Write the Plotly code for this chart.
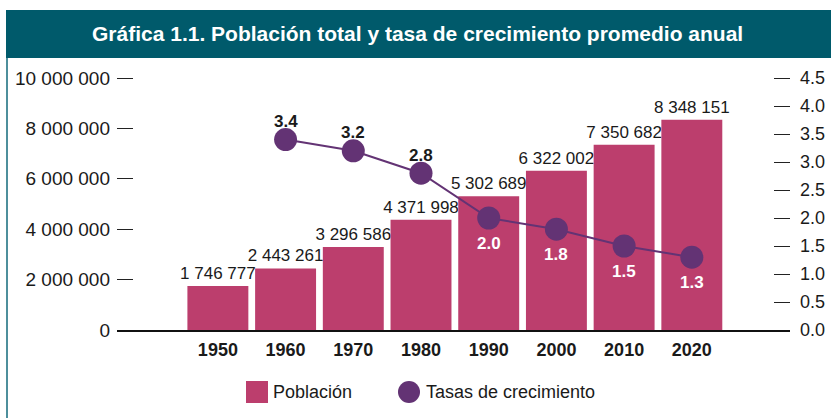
import plotly.graph_objects as go

# ---- data ----
years = ["1950", "1960", "1970", "1980", "1990", "2000", "2010", "2020"]
population = [1746777, 2443261, 3296586, 4371998, 5302689, 6322002, 7350682, 8348151]
rate_years = ["1960", "1970", "1980", "1990", "2000", "2010", "2020"]
growth_rate = [3.4, 3.2, 2.8, 2.0, 1.8, 1.5, 1.3]
left_ticks = [0, 2000000, 4000000, 6000000, 8000000, 10000000]
right_ticks = [0.0, 0.5, 1.0, 1.5, 2.0, 2.5, 3.0, 3.5, 4.0, 4.5]

title_text = "Gráfica 1.1. Población total y tasa de crecimiento promedio anual"
legend_labels = ["Población", "Tasas de crecimiento"]

# ---- style ----
W, H = 831, 418
EXT = 1.04  # axis headroom above top tick
L, R, B = 117, 41, 88
T = int(round(H - B - (H - B - 78) * EXT))
PW, PH = W - L - R, H - T - B
BAR = "#bc3e6d"
PURPLE = "#633374"
TEAL = "#005a6b"
FONT = "Liberation Sans, Arial, sans-serif"
TXT = "#1a1a1a"


def px_x(x):
    return (x - L) / PW


def px_y(y):
    return (H - B - y) / PH


def fmt_int(v):
    return f"{v:,}".replace(",", " ")


fig = go.Figure()

fig.add_trace(go.Bar(
    x=years, y=population, name=legend_labels[0],
    marker=dict(color=BAR, line=dict(width=0)),
    text=[fmt_int(v) for v in population],
    textposition="outside", constraintext="none", cliponaxis=False,
    textfont=dict(family=FONT, size=17, color=TXT),
    width=0.9, showlegend=False,
))

fig.add_trace(go.Scatter(
    x=rate_years, y=growth_rate, yaxis="y2", name=legend_labels[1],
    mode="lines+markers",
    line=dict(color=PURPLE, width=2),
    marker=dict(color=PURPLE, size=23),
    cliponaxis=False, showlegend=False,
))

y_top = (H - B - T) / (H - B - 78) * left_ticks[-1]
y2_top = (H - B - T) / (H - B - 78) * right_ticks[-1]

fig.update_layout(
    width=W, height=H,
    margin=dict(l=L, r=R, t=T, b=B, autoexpand=False),
    paper_bgcolor="white", plot_bgcolor="white",
    font=dict(family=FONT, color=TXT),
    bargap=0.1,
    xaxis=dict(
        type="category", range=[-1.49, 8.45], automargin=False,
        showline=True, linecolor="#111", linewidth=1.5,
        showgrid=False, ticks="", zeroline=False,
        tickfont=dict(family=FONT, size=18, color=TXT, weight="bold"),
        ticklabelstandoff=3,
    ),
    yaxis=dict(
        range=[0, y_top], tickvals=left_ticks, automargin=False,
        ticktext=[fmt_int(v) for v in left_ticks],
        ticks="inside", ticklen=16, tickwidth=1.2, tickcolor="#222",
        showgrid=False, zeroline=False, showline=False,
        tickfont=dict(family=FONT, size=19, color=TXT),
        ticklabelstandoff=6,
    ),
    yaxis2=dict(
        overlaying="y", side="right", range=[0, y2_top], automargin=False,
        tickvals=right_ticks, ticktext=[f"{v:.1f}" for v in right_ticks],
        ticks="inside", ticklen=16, tickwidth=1.2, tickcolor="#222",
        showgrid=False, zeroline=False, showline=False,
        tickfont=dict(family=FONT, size=18, color=TXT),
        ticklabelstandoff=9,
    ),
)

shapes = [
    # title banner
    dict(type="rect", xref="paper", yref="paper",
         x0=px_x(6), x1=px_x(W + 2), y0=px_y(58), y1=px_y(10),
         fillcolor=TEAL, line=dict(width=0), layer="below"),
    # left frame line
    dict(type="line", xref="paper", yref="paper",
         x0=px_x(7), x1=px_x(7), y0=px_y(58), y1=px_y(H + 2),
         line=dict(color="#4d8f9c", width=2)),
    # legend swatches
    dict(type="rect", xref="paper", yref="paper",
         x0=px_x(246), x1=px_x(268), y0=px_y(403), y1=px_y(381),
         fillcolor=BAR, line=dict(width=0)),
    dict(type="circle", xref="paper", yref="paper",
         x0=px_x(398), x1=px_x(420), y0=px_y(403), y1=px_y(381),
         fillcolor=PURPLE, line=dict(width=0)),
]
fig.update_layout(shapes=shapes)

annotations = [
    dict(text=title_text, xref="paper", yref="paper",
         x=px_x(417), y=px_y(34), xanchor="center", yanchor="middle",
         showarrow=False, font=dict(family=FONT, size=21, color="white", weight="bold")),
    dict(text=legend_labels[0], xref="paper", yref="paper",
         x=px_x(271), y=px_y(392), xanchor="left", yanchor="middle",
         showarrow=False, font=dict(family=FONT, size=18, color=TXT)),
    dict(text=legend_labels[1], xref="paper", yref="paper",
         x=px_x(424), y=px_y(392), xanchor="left", yanchor="middle",
         showarrow=False, font=dict(family=FONT, size=18, color=TXT)),
]
# growth-rate value labels: above the marker (dark) for high rates, below (white) for low
for yr, v in zip(rate_years, growth_rate):
    above = v >= 2.5
    annotations.append(dict(
        text=f"{v:.1f}", x=years.index(yr), y=v, xref="x", yref="y2",
        xanchor="center", yanchor="middle", showarrow=False,
        yshift=18 if above else -25,
        font=dict(family=FONT, size=17, weight="bold",
                  color=TXT if above else "white"),
    ))
fig.update_layout(annotations=annotations)

fig.write_html("out.html", post_script="document.body.style.margin='0';",
               config={"displayModeBar": False})
